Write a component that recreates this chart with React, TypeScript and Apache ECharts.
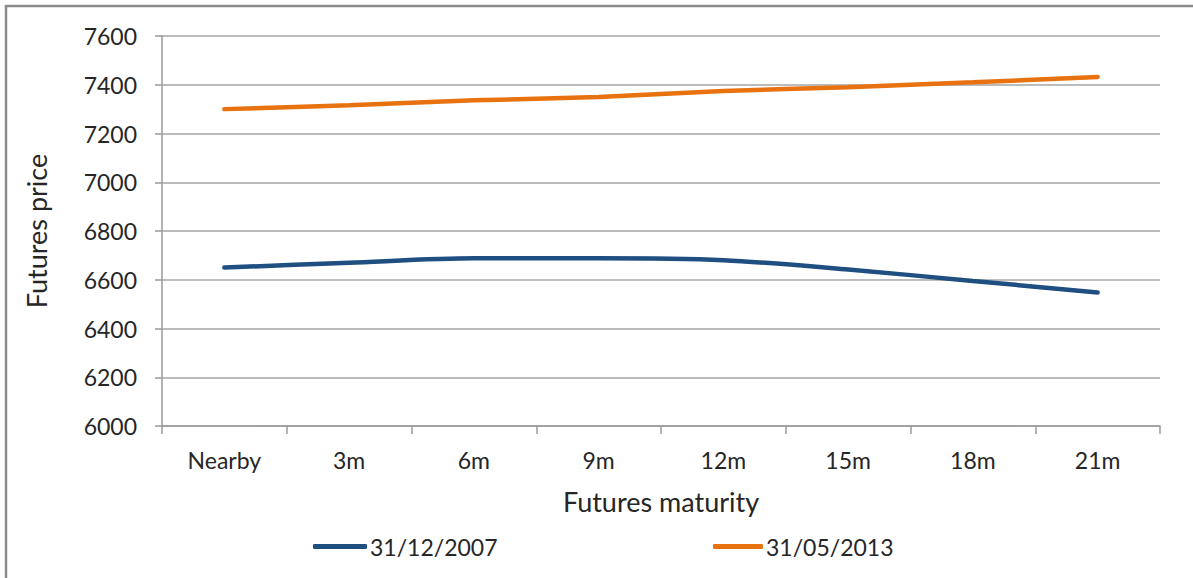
import React, { useEffect, useRef } from "react";
import * as echarts from "echarts";

const categories = ["Nearby", "3m", "6m", "9m", "12m", "15m", "18m", "21m"];
const series2007 = [6650, 6670, 6688, 6688, 6680, 6642, 6595, 6548];
const series2013 = [7300, 7316, 7336, 7350, 7374, 7390, 7410, 7432];
const seriesNames = ["31/12/2007", "31/05/2013"];
const yTicks = { min: 6000, max: 7600, interval: 200 };

const FONT = "Lato";
const TEXT = "#262626";

export default function App() {
  const ref = useRef<HTMLDivElement>(null);
  useEffect(() => {
    if (!ref.current) return;
    const chart = echarts.init(ref.current, undefined, { renderer: "svg" });
    chart.setOption({
      animation: false,
      backgroundColor: "#ffffff",
      grid: { left: 162, right: 33, top: 36, bottom: 152, containLabel: false },
      xAxis: {
        type: "category",
        data: categories,
        boundaryGap: true,
        name: "Futures maturity",
        nameLocation: "middle",
        nameGap: 62,
        nameTextStyle: { fontFamily: FONT, fontSize: 27, color: TEXT },
        axisLine: { show: true, lineStyle: { color: "#9a9a9a", width: 1.5 } },
        axisTick: { show: true, length: 8, alignWithLabel: false, lineStyle: { color: "#9a9a9a", width: 1.5 } },
        axisLabel: { fontFamily: FONT, fontSize: 23, color: TEXT, margin: 22 },
        splitLine: { show: false },
      },
      yAxis: {
        type: "value",
        min: yTicks.min,
        max: yTicks.max,
        interval: yTicks.interval,
        name: "Futures price",
        nameLocation: "middle",
        nameGap: 112,
        nameRotate: 90,
        nameTextStyle: { fontFamily: FONT, fontSize: 27, color: TEXT },
        axisLine: { show: true, lineStyle: { color: "#9a9a9a", width: 1.5 } },
        axisTick: { show: true, inside: false, length: 7, lineStyle: { color: "#9a9a9a", width: 1.5 } },
        axisLabel: { fontFamily: FONT, fontSize: 23, color: TEXT, margin: 25, formatter: (v: number) => String(v) },
        splitLine: { show: true, lineStyle: { color: "#a6a6a6", width: 1.5 } },
      },
      legend: [
        {
          data: [seriesNames[0]],
          left: 308,
          top: 530,
          icon: "roundRect",
          itemWidth: 54,
          itemHeight: 5,
          itemGap: 4,
          textStyle: { fontFamily: FONT, fontSize: 23, color: TEXT, padding: [0, 0, 0, -2] },
        },
        {
          data: [seriesNames[1]],
          left: 708,
          top: 530,
          icon: "roundRect",
          itemWidth: 50,
          itemHeight: 5,
          textStyle: { fontFamily: FONT, fontSize: 23, color: TEXT, padding: [0, 0, 0, -2] },
        },
      ],
      graphic: [
        {
          type: "rect",
          shape: { x: 6, y: 6, width: 1200, height: 600 },
          style: { fill: "none", stroke: "#8a8a8a", lineWidth: 2.5 },
          silent: true,
        },
      ],
      series: [
        {
          name: seriesNames[0],
          type: "line",
          data: series2007,
          smooth: 0.3,
          symbol: "none",
          lineStyle: { color: "#1f4e80", width: 4.5, cap: "round" },
          itemStyle: { color: "#1f4e80" },
        },
        {
          name: seriesNames[1],
          type: "line",
          data: series2013,
          smooth: 0.3,
          symbol: "none",
          lineStyle: { color: "#e8720f", width: 4.5, cap: "round" },
          itemStyle: { color: "#e8720f" },
        },
      ],
    });
    return () => chart.dispose();
  }, []);
  return (
    <div
      ref={ref}
      style={{ position: "fixed", left: 0, top: 0, width: 1193, height: 578, background: "#fff" }}
    />
  );
}
